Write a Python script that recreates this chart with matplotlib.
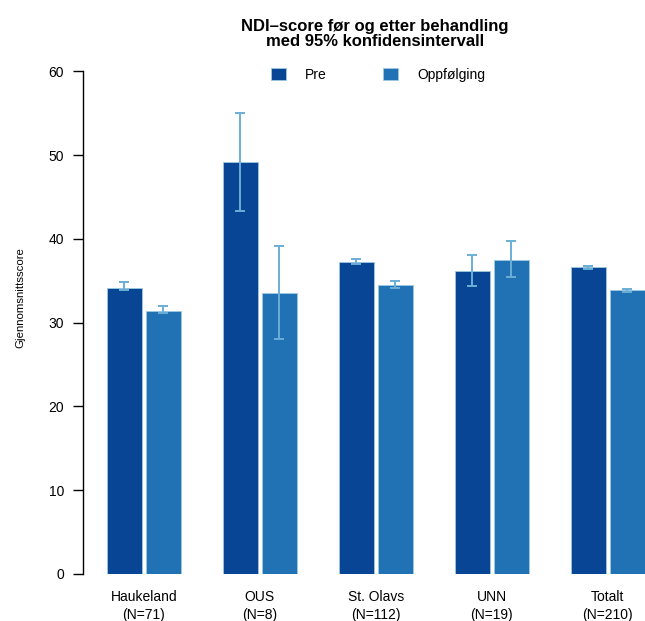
import matplotlib
matplotlib.use("Agg")
import matplotlib.pyplot as plt
import numpy as np

plt.rcParams['font.family'] = ['Liberation Sans', 'DejaVu Sans']

# NDI-score per sykehus, før (Pre) og etter (Oppfølging)
sykehus = ["Haukeland\n(N=71)", "OUS\n(N=8)", "St. Olavs\n(N=112)", "UNN\n(N=19)", "Totalt\n(N=210)"]
pre = [34.2, 49.2, 37.3, 36.2, 36.6]
pre_lo = [33.9, 43.4, 37.0, 34.4, 36.45]
pre_hi = [34.85, 55.05, 37.65, 38.1, 36.8]
oppf = [31.45, 33.6, 34.5, 37.5, 33.85]
oppf_lo = [31.15, 28.1, 34.1, 35.45, 33.7]
oppf_hi = [32.0, 39.15, 35.0, 39.8, 34.05]

c_pre = '#084594'
c_oppf = '#2171b5'
c_err = '#6baed6'

fig = plt.figure(figsize=(6.45, 6.21), dpi=100)
ax = fig.add_axes([0.1287, 0.0757, 0.8713, 0.8092])

x = np.arange(len(sykehus))
w = 0.308
off = 0.168

def feil(verdi, lo, hi):
    verdi = np.array(verdi)
    return [verdi - np.array(lo), np.array(hi) - verdi]

ax.bar(x - off, pre, w, color=c_pre, edgecolor='#9ecae1', linewidth=0.6, label='Pre')
ax.bar(x + off, oppf, w, color=c_oppf, edgecolor='#9ecae1', linewidth=0.6, label='Oppfølging')
ax.errorbar(x - off, pre, yerr=feil(pre, pre_lo, pre_hi), fmt='none',
            ecolor=c_err, elinewidth=1.4, capsize=3.5, capthick=1.4)
ax.errorbar(x + off, oppf, yerr=feil(oppf, oppf_lo, oppf_hi), fmt='none',
            ecolor=c_err, elinewidth=1.4, capsize=3.5, capthick=1.4)

ax.set_ylim(0, 60)
ax.set_xlim(-0.525, 4.32)
ax.set_yticks(range(0, 61, 10))
ax.set_xticks(x)
ax.set_xticklabels(sykehus, fontsize=10, linespacing=1.4)
ax.tick_params(axis='x', length=0, pad=11.5)
ax.tick_params(axis='y', length=7.2, width=1, pad=6.5, labelsize=10)

for s in ['top', 'right', 'bottom']:
    ax.spines[s].set_visible(False)
ax.spines['left'].set_linewidth(1)

ax.set_ylabel("Gjennomsnittsscore", fontsize=8.2)
ax.yaxis.set_label_coords(-0.102, 0.55)

fig.text(0.581, 0.945, "NDI\u2013score før og etter behandling\nmed 95% konfidensintervall",
         ha='center', va='center', fontsize=12, fontweight='bold', linespacing=1.05)

fig.legend(loc='center', bbox_to_anchor=(378 / 645, 1 - 75 / 621), ncol=2,
           frameon=False, fontsize=10, handlelength=1.1, handleheight=1.0,
           handletextpad=1.4, columnspacing=4.0)

fig.savefig("out.png", dpi=100)
